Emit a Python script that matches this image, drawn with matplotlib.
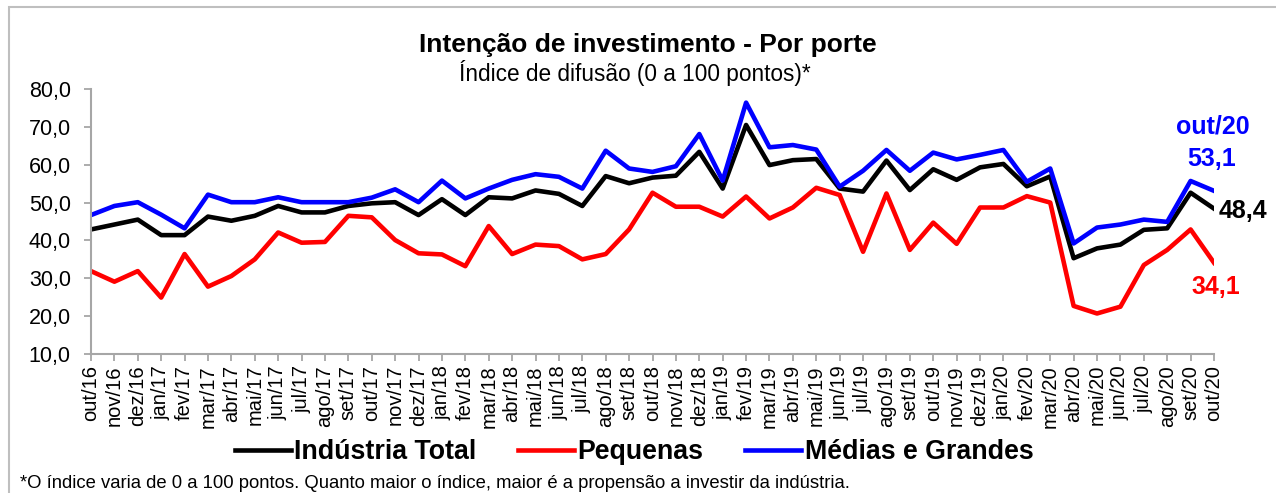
import matplotlib
matplotlib.use("Agg")
import matplotlib.pyplot as plt
from matplotlib.patches import Rectangle

plt.rcParams['font.family'] = ['Liberation Sans', 'DejaVu Sans']

# meses out/16 .. out/20
meses = ['out/16', 'nov/16', 'dez/16', 'jan/17', 'fev/17', 'mar/17', 'abr/17', 'mai/17',
         'jun/17', 'jul/17', 'ago/17', 'set/17', 'out/17', 'nov/17', 'dez/17', 'jan/18',
         'fev/18', 'mar/18', 'abr/18', 'mai/18', 'jun/18', 'jul/18', 'ago/18', 'set/18',
         'out/18', 'nov/18', 'dez/18', 'jan/19', 'fev/19', 'mar/19', 'abr/19', 'mai/19',
         'jun/19', 'jul/19', 'ago/19', 'set/19', 'out/19', 'nov/19', 'dez/19', 'jan/20',
         'fev/20', 'mar/20', 'abr/20', 'mai/20', 'jun/20', 'jul/20', 'ago/20', 'set/20',
         'out/20']

industria_total = [42.9, 44.2, 45.5, 41.4, 41.4, 46.3, 45.2, 46.5, 49.1, 47.4, 47.4, 49.1,
                   49.8, 50.1, 46.7, 50.9, 46.7, 51.4, 51.1, 53.2, 52.3, 49.1, 57.0, 55.1,
                   56.6, 57.1, 63.4, 53.7, 70.5, 59.9, 61.2, 61.5, 53.7, 52.9, 61.1, 53.3,
                   58.8, 56.0, 59.3, 60.2, 54.3, 56.9, 35.3, 37.9, 38.9, 42.8, 43.2, 52.6,
                   48.4]
pequenas = [31.9, 29.1, 31.9, 24.9, 36.4, 27.8, 30.6, 35.0, 42.1, 39.4, 39.6, 46.5,
            46.1, 40.1, 36.6, 36.3, 33.2, 43.8, 36.4, 38.9, 38.5, 35.0, 36.4, 42.9,
            52.6, 48.9, 48.9, 46.3, 51.6, 45.8, 48.7, 53.9, 52.0, 37.0, 52.4, 37.5,
            44.7, 39.1, 48.7, 48.7, 51.7, 50.0, 22.7, 20.7, 22.5, 33.5, 37.5, 42.9,
            34.1]
medias_grandes = [46.7, 49.1, 50.1, 46.8, 43.2, 52.1, 50.1, 50.1, 51.4, 50.1, 50.1, 50.1,
                  51.3, 53.5, 50.1, 55.8, 51.1, 53.7, 56.0, 57.5, 56.8, 53.7, 63.7, 59.0,
                  58.1, 59.6, 68.1, 55.8, 76.4, 64.6, 65.2, 64.0, 54.2, 58.4, 63.9, 58.4,
                  63.2, 61.4, 62.6, 63.9, 55.5, 59.0, 39.2, 43.4, 44.2, 45.5, 44.9, 55.7,
                  53.1]

W, H = 1276, 493
fig = plt.figure(figsize=(W / 100, H / 100), dpi=100)
ax = fig.add_axes([91 / W, 1 - 354 / H, (1214 - 91) / W, (354 - 89) / H])

x = range(len(meses))
ax.plot(x, industria_total, color='black', lw=3.3, label='Indústria Total')
ax.plot(x, pequenas, color='#ff0000', lw=3.3, label='Pequenas')
ax.plot(x, medias_grandes, color='#0000ff', lw=3.3, label='Médias e Grandes')

ax.set_xlim(0, len(meses) - 1)
ax.set_ylim(10, 80)
ax.set_yticks(range(10, 81, 10))
ax.set_yticklabels([f'{v:.1f}'.replace('.', ',') for v in range(10, 81, 10)], fontsize=15.5)
ax.set_xticks(list(x))
ax.set_xticklabels(meses, rotation=90, fontsize=14.5)
ax.tick_params(axis='both', color='#a6a6a6', length=5, width=1.3)
ax.tick_params(axis='y', pad=9.5)
ax.tick_params(axis='x', pad=3)
for s in ['top', 'right']:
    ax.spines[s].set_visible(False)
for s in ['left', 'bottom']:
    ax.spines[s].set_color('#a6a6a6')
    ax.spines[s].set_linewidth(1.5)

# rótulos finais
ult = len(meses) - 1
ax.annotate('out/20', (ult, medias_grandes[-1]), xytext=(-1, 64), textcoords='offset pixels',
            ha='center', va='center', color='#0000ff', fontsize=18, fontweight='bold')
ax.annotate(f'{medias_grandes[-1]:.1f}'.replace('.', ','), (ult, medias_grandes[-1]),
            xytext=(-2, 32), textcoords='offset pixels',
            ha='center', va='center', color='#0000ff', fontsize=18, fontweight='bold')
ax.annotate(f'{industria_total[-1]:.1f}'.replace('.', ','), (ult, industria_total[-1]),
            xytext=(5, -2), textcoords='offset pixels',
            ha='left', va='center', color='black', fontsize=18, fontweight='bold')
ax.annotate(f'{pequenas[-1]:.1f}'.replace('.', ','), (ult, pequenas[-1]),
            xytext=(2, -24), textcoords='offset pixels',
            ha='center', va='center', color='#ff0000', fontsize=18, fontweight='bold')

fig.text(648 / W, 1 - 45 / H, 'Intenção de investimento - Por porte', ha='center', va='center',
         fontsize=19, fontweight='bold')
fig.text(635 / W, 1 - 73 / H, 'Índice de difusão (0 a 100 pontos)*', ha='center', va='center',
         fontsize=16.3)

fig.legend(loc='center', bbox_to_anchor=(634 / W, 1 - 452 / H), ncol=3, frameon=False,
           prop={'size': 19.3, 'weight': 'bold'}, handlelength=2.1, handletextpad=0.12,
           columnspacing=1.55)

fig.text(20 / W, 1.5 / H,
         '*O índice varia de 0 a 100 pontos. Quanto maior o índice, maior é a propensão a investir da indústria.',
         ha='left', va='bottom', fontsize=13.3)

fig.patches.append(Rectangle((9 / W, -0.05), 1.0, 1 - 7 / H + 0.05, transform=fig.transFigure,
                             fill=False, edgecolor='#bfbfbf', lw=1.5))

fig.savefig('out.png', dpi=100)
